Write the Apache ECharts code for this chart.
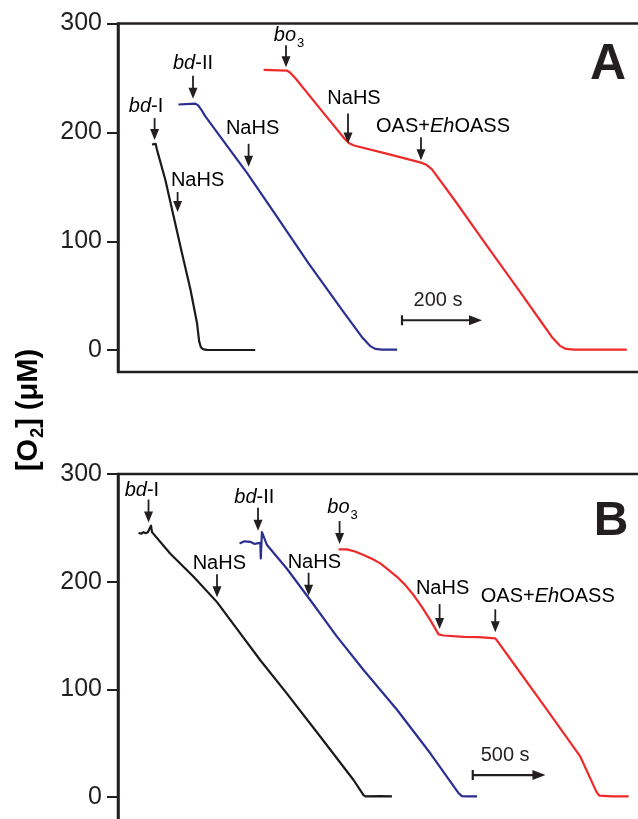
<!DOCTYPE html>
<html><head><meta charset="utf-8">
<script src="https://cdn.jsdelivr.net/npm/echarts@6/dist/echarts.min.js"></script>
<style>html,body{margin:0;padding:0;background:#fff}#c{width:638px;height:819px}</style>
</head><body><div id="c"></div>
<script>
// ---------- DATA (x: time in s, y: [O2] in µM) ----------
// Panel A
const aBdI = [[85,188.9],[90,190],[94,189.5],[97.5,184],[118,157],[139,123],[160,89],[181,56],[197.5,25],[203,8],[207,3],[212,1],[222,0.3],[343,0.2]];
const aBdII = [[151,225.6],[193,226.4],[200,225],[208,221],[218,215],[268,190],[322,163],[393,125],[476,80],[560,37],[610,12],[630,4],[643,1.2],[660,0.5],[698,0.5]];
const aBo3 = [[364,257.5],[422,256.8],[430,255],[443,250],[510,219.5],[568,193.5],[578,190],[590,188],[676,180],[760,172],[772,170],[785,166],[843,137],[926,94],[1010,51],[1060,25],[1085,12],[1105,4],[1120,1.2],[1140,0.6],[1272,0.6]];
// Panel B
const bBdI = [[142,245.5],[160,244.5],[175,246],[190,245],[205,246],[218,247],[227,252],[234,246],[360,226],[520,204.5],[681,181],[841,152],[979,127],[1162,96],[1392,56],[1620,15.8],[1690,1.5],[1705,0.5],[1800,0.8],[1884,0.5]];
const bBdII = [[836,235.5],[870,237.5],[910,237],[940,235],[956,235.5],[979,236],[982,221.6],[990,246],[1025,234],[1162,212],[1322,183],[1506,149],[1689,118],[1919,81],[2148,40.6],[2340,4],[2365,0.8],[2400,0.5],[2469,0.5]];
const bBo3 = [[1517,230],[1575,230],[1630,228],[1689,224.7],[1750,221],[1804,217],[1860,211],[1919,204.5],[1975,197],[2033,187.6],[2090,176.5],[2148,164.3],[2190,154.5],[2205,151],[2240,150],[2377,148.8],[2480,148.5],[2595,147.4],[2620,143],[2721,124],[2951,81],[3180,37.4],[3290,5],[3310,1.2],[3400,0.5],[3512,0.5]];

// y-axis ticks
const yTicks = [0,100,200,300];
const yMinorTicks = [33.3,66.7,133.3,166.7,233.3,266.7];

// annotations: [x of arrow, y of arrow tip, label key]
const aNotes = [[91.5,192,'bdI'],[149,126,'NaHS'],[187.5,230,'bdII'],[326.5,167.5,'NaHS'],[420,259,'bo3'],[575,189,'NaHS'],[757.5,173.5,'OAS']];
const bNotes = [[210,254,'bdI'],[681,184.5,'NaHS'],[963,246.3,'bdII'],[1311,186,'NaHS'],[1524,234,'bo3'],[2212,155,'NaHS'],[2595,152,'OAS']];

// scale bars: [x start, x end, y, label]
const aScale = [[710,910,27.5,'200 s']];
const bScale = [[2440,2940,20.4,'500 s']];

// ---------- LAYOUT / STYLE ----------
const aNoteLayout = { dx:[-8.5,20,0,4,3,6,22], len:[22,20,23,23,22,30,23], gap:[12,11.5,12.3,15,10,15,10.6] };
const bNoteLayout = { dx:[-6.6,2.3,-3.7,5.7,3,3,52.5], len:[23,23,23,23,23,25,23], gap:[9.3,10.7,10,10,14,15.7,12.7] };

const INK = '#231f20';
const FONT = '"Liberation Sans", Arial, Helvetica, sans-serif';
const BLACK = '#1a1a1a', BLUE = '#2b2f8f', RED = '#ee2a2a';

const labelText = {
  bdI: '{i|bd}{r|-I}',
  bdII: '{i|bd}{r|-II}',
  bo3: '{i|bo}{s|3}',
  NaHS: '{r|NaHS}',
  OAS: '{r|OAS+}{i|Eh}{r|OASS}'
};
const noteRich = {
  r: { fontSize: 20, fontFamily: FONT, color: INK },
  i: { fontSize: 20, fontFamily: FONT, color: INK, fontStyle: 'italic' },
  s: { fontSize: 13, fontFamily: FONT, color: INK, padding: [16, 0, 0, 1] }
};

function notesRender(notes, lay) {
  return function (params, api) {
    const i = params.dataIndex;
    const tip = api.coord([api.value(0), api.value(1)]);
    const px = tip[0], py = tip[1] - 1;
    const L = lay.len[i], g = lay.gap[i], dx = lay.dx[i];
    return {
      type: 'group',
      children: [
        { type: 'line', shape: { x1: px, y1: py - L, x2: px, y2: py - 8 }, style: { stroke: INK, lineWidth: 1.8 } },
        { type: 'polygon', shape: { points: [[px - 4.5, py - 11], [px + 4.5, py - 11], [px, py]] }, style: { fill: INK } },
        { type: 'text', x: px + dx, y: py - L - g,
          style: { text: labelText[notes[i][2]], rich: noteRich, align: 'center', verticalAlign: 'middle' } }
      ]
    };
  };
}
function scaleRender(bars) {
  return function (params, api) {
    const b = bars[params.dataIndex];
    const p1 = api.coord([b[0], b[2]]), p2 = api.coord([b[1], b[2]]);
    const y = p1[1];
    return {
      type: 'group',
      children: [
        { type: 'line', shape: { x1: p1[0], y1: y, x2: p2[0] - 10, y2: y }, style: { stroke: INK, lineWidth: 2.2 } },
        { type: 'line', shape: { x1: p1[0], y1: y - 5, x2: p1[0], y2: y + 5 }, style: { stroke: INK, lineWidth: 2.2 } },
        { type: 'polygon', shape: { points: [[p2[0] - 13, y - 5], [p2[0] - 13, y + 5], [p2[0], y]] }, style: { fill: INK } },
        { type: 'text', x: (p1[0] + p2[0]) / 2 - 4, y: y - 20,
          style: { text: b[3], font: '20px ' + FONT, fill: INK, align: 'center', verticalAlign: 'middle' } }
      ]
    };
  };
}

function majorY(gi, min) {
  return {
    gridIndex: gi, type: 'value', min: min, max: 300,
    axisLine: { show: true, lineStyle: { color: INK, width: 2.5 } },
    axisTick: { show: true, customValues: yTicks, length: 11, lineStyle: { color: INK, width: 2 } },
    axisLabel: { show: true, customValues: yTicks, margin: 16, fontSize: 25, fontFamily: FONT, color: INK },
    splitLine: { show: false }
  };
}
function minorY(gi, min) {
  return {
    gridIndex: gi, type: 'value', min: min, max: 300,
    axisLine: { show: false },
    axisTick: { show: true, customValues: yMinorTicks, length: 6, lineStyle: { color: INK, width: 2 } },
    axisLabel: { show: false },
    splitLine: { show: false }
  };
}
function curve(data, color, xi, yi) {
  return { type: 'line', data: data, xAxisIndex: xi, yAxisIndex: yi, showSymbol: false, symbol: 'none',
           smooth: false, lineStyle: { color: color, width: 2.2, join: 'round' }, itemStyle: { color: color }, animation: false, z: 3 };
}

const chart = echarts.init(document.getElementById('c'), null, { renderer: 'canvas' });
chart.setOption({
  animation: false,
  backgroundColor: '#fff',
  grid: [
    { left: 118, top: 23.5, width: 545, height: 348.5, show: true, borderColor: INK, borderWidth: 2.5, backgroundColor: 'transparent', containLabel: false, outerBoundsMode: 'none' },
    { left: 118, top: 474, width: 545, height: 355.3, show: true, borderColor: INK, borderWidth: 2.5, backgroundColor: 'transparent', containLabel: false, outerBoundsMode: 'none' }
  ],
  xAxis: [
    { gridIndex: 0, type: 'value', min: 0, max: 1362.5, show: false },
    { gridIndex: 1, type: 'value', min: 0, max: 3748.5, show: false }
  ],
  yAxis: [ majorY(0, -20), minorY(0, -20), majorY(1, -30), minorY(1, -30) ],
  series: [
    curve(aBdI, BLACK, 0, 0), curve(aBdII, BLUE, 0, 0), curve(aBo3, RED, 0, 0),
    curve(bBdI, BLACK, 1, 2), curve(bBdII, BLUE, 1, 2), curve(bBo3, RED, 1, 2),
    { type: 'custom', xAxisIndex: 0, yAxisIndex: 0, data: aNotes.map(n => [n[0], n[1]]), renderItem: notesRender(aNotes, aNoteLayout), z: 5 },
    { type: 'custom', xAxisIndex: 1, yAxisIndex: 2, data: bNotes.map(n => [n[0], n[1]]), renderItem: notesRender(bNotes, bNoteLayout), z: 5 },
    { type: 'custom', xAxisIndex: 0, yAxisIndex: 0, data: aScale.map(b => [b[0], b[2]]), renderItem: scaleRender(aScale), z: 5 },
    { type: 'custom', xAxisIndex: 1, yAxisIndex: 2, data: bScale.map(b => [b[0], b[2]]), renderItem: scaleRender(bScale), z: 5 }
  ],
  graphic: [
    { type: 'text', x: 608, y: 65, style: { text: 'A', font: 'bold 50px ' + FONT, fill: INK, align: 'center', verticalAlign: 'middle' } },
    { type: 'text', x: 611, y: 522, style: { text: 'B', font: 'bold 48px ' + FONT, fill: INK, align: 'center', verticalAlign: 'middle' } },
    { type: 'text', x: 29, y: 410, rotation: Math.PI / 2,
      style: { text: '{a|[O}{s|2}{a|] (μM)}', align: 'center', verticalAlign: 'middle',
        rich: { a: { fontSize: 29, fontWeight: 'bold', fontFamily: FONT, color: INK },
                s: { fontSize: 18, fontWeight: 'bold', fontFamily: FONT, color: INK, padding: [18, 0, 0, 1] } } } }
  ]
});
</script>
</body></html>
